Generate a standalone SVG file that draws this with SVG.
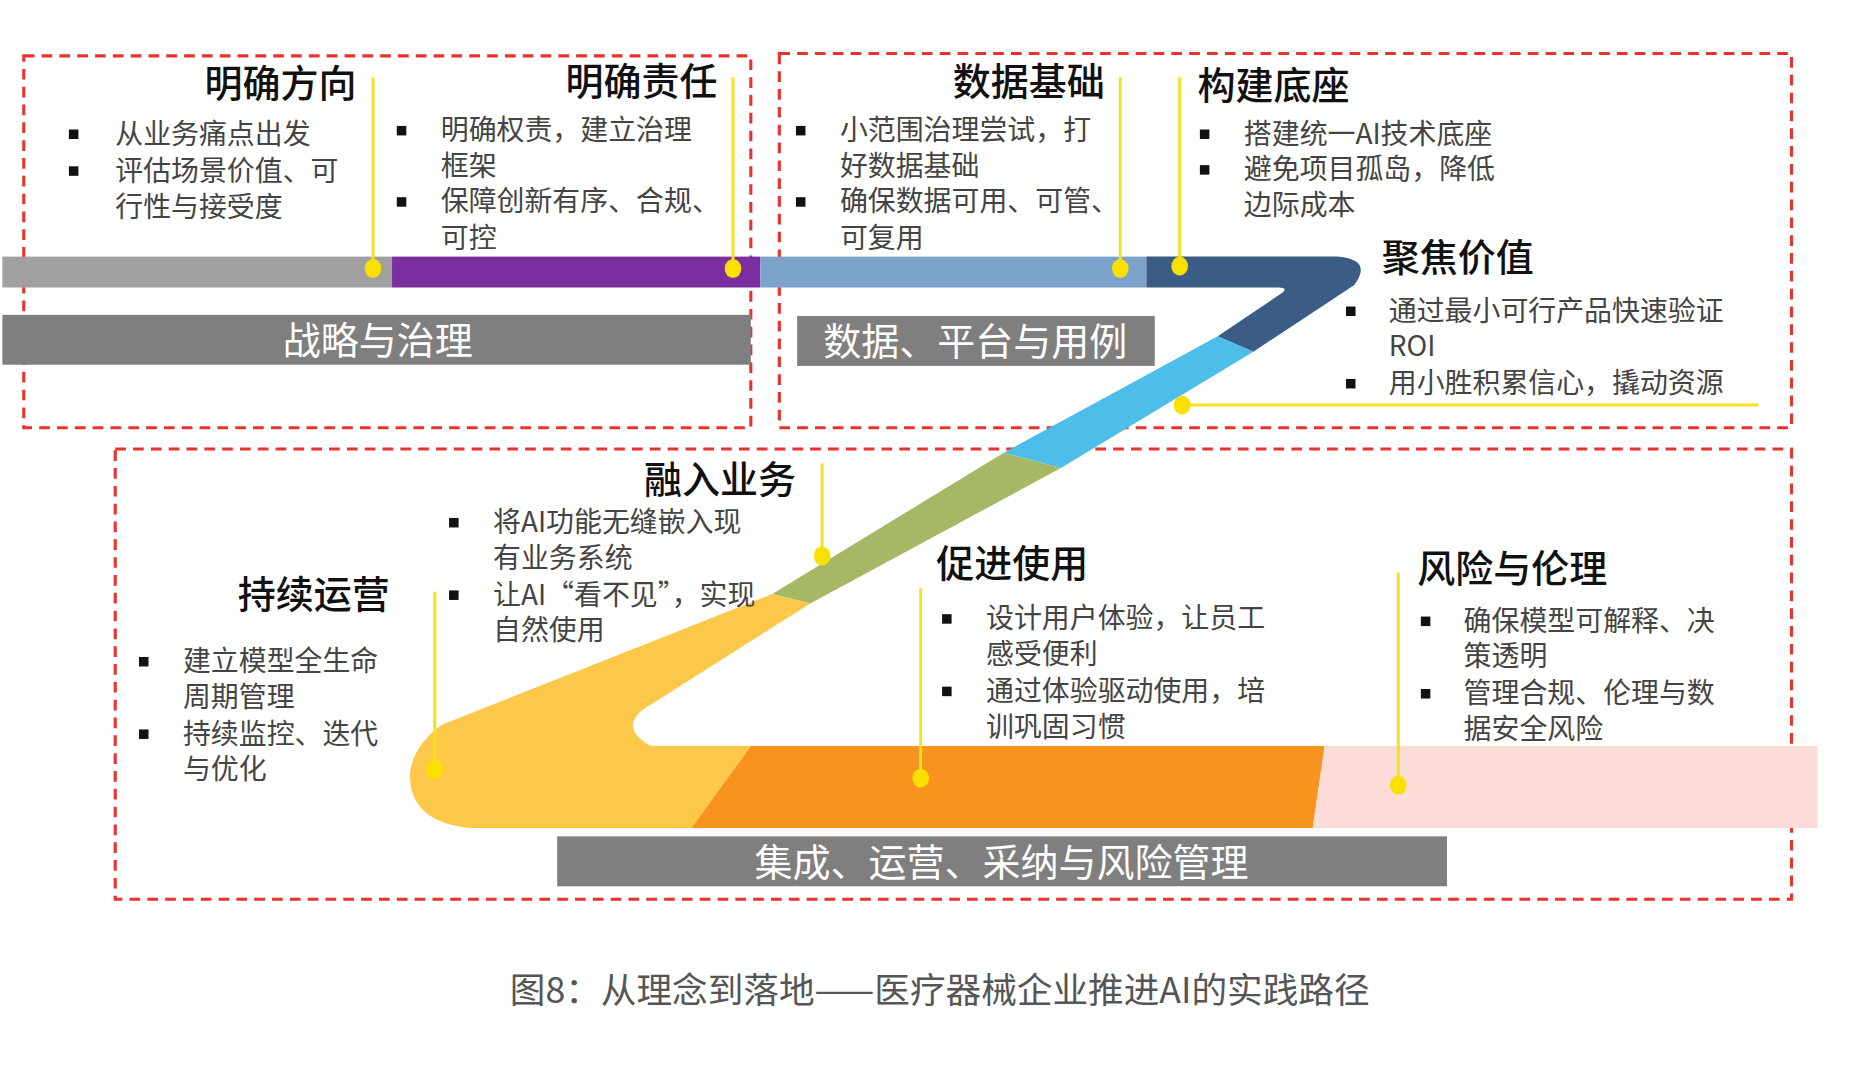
<svg xmlns="http://www.w3.org/2000/svg" width="1860" height="1080" viewBox="0 0 1860 1080">
<style>
.box{fill:none;stroke:#e8322e;stroke-width:2.6;stroke-dasharray:9 6}
.t{font-family:"Noto Sans CJK SC","Noto Sans",sans-serif;font-size:32px;font-weight:500;fill:#111}
.b{font-family:"Noto Sans CJK SC","Noto Sans",sans-serif;font-size:23.5px;fill:#444}
.lbl{font-family:"Noto Sans CJK SC","Noto Sans",sans-serif;font-size:32px;fill:#fff}
.yl{stroke:#f7e21a;stroke-width:2.5;fill:none}
.dot{fill:#f9e000}
.sq{fill:#111}
</style>
<rect width="1860" height="1080" fill="#fff"/>
<g transform="scale(1.188)">
<g id="frames">
<rect class="box" x="20" y="47" width="612" height="313"/>
<rect class="box" x="656" y="45" width="852" height="315"/>
<rect class="box" x="97" y="378" width="1411" height="379"/>
</g>
<g id="path">
<rect x="2" y="216" width="328" height="26" fill="#a0a0a0"/>
<rect x="330" y="216" width="310" height="26" fill="#7a2ea0"/>
<rect x="640" y="216" width="325" height="26" fill="#7ba3cc"/>
<path d="M965,216 H1125 Q1156,218 1140,240 L1055,296 L1025,283 L1080,246 Q1084,242 1076,242 H965 Z" fill="#3a5c85"/>
<path d="M1025,283 L1055,296 L893,394 L845,381 Z" fill="#4dbde9"/>
<path d="M845,381 L893,394 L682,508 L650,500 Z" fill="#a5b865"/>
<path d="M650,500 L682,508 L540,598 Q522,614 548,628 L632,628 L582,697 L395,697 Q345,692 345,652 Q347,628 372,610 Z" fill="#fcc84a"/>
<path d="M632,628 H1115 L1105,697 H582 Z" fill="#f7931e"/>
<path d="M1115,628 H1530 V697 H1105 Z" fill="#fcdcd6"/>
</g>
<g id="labels">
<rect x="2" y="265" width="630" height="42" fill="#7f7f7f"/>
<text class="lbl" x="318" y="298" text-anchor="middle">战略与治理</text>
<rect x="671" y="266" width="301" height="42" fill="#7f7f7f"/>
<text class="lbl" x="821" y="299" text-anchor="middle">数据、平台与用例</text>
<rect x="469" y="704" width="749" height="42" fill="#7f7f7f"/>
<text class="lbl" x="843" y="737" text-anchor="middle">集成、运营、采纳与风险管理</text>
</g>
<g id="connectors">
<line class="yl" x1="314" y1="65" x2="314" y2="226"/><ellipse class="dot" cx="314" cy="226" rx="7" ry="8"/>
<line class="yl" x1="617" y1="65" x2="617" y2="226"/><ellipse class="dot" cx="617" cy="226" rx="7" ry="8"/>
<line class="yl" x1="943" y1="65" x2="943" y2="226"/><ellipse class="dot" cx="943" cy="226" rx="7" ry="8"/>
<line class="yl" x1="993" y1="65" x2="993" y2="224"/><ellipse class="dot" cx="993" cy="224" rx="7" ry="8"/>
<line class="yl" x1="995" y1="341" x2="1480" y2="341"/><ellipse class="dot" cx="995" cy="341" rx="7" ry="8"/>
<line class="yl" x1="692" y1="390" x2="692" y2="468"/><ellipse class="dot" cx="692" cy="468" rx="7" ry="8"/>
<line class="yl" x1="366" y1="498" x2="366" y2="648"/><ellipse class="dot" cx="366" cy="648" rx="7" ry="8"/>
<line class="yl" x1="775" y1="495" x2="775" y2="655"/><ellipse class="dot" cx="775" cy="655" rx="7" ry="8"/>
<line class="yl" x1="1177" y1="482" x2="1177" y2="661"/><ellipse class="dot" cx="1177" cy="661" rx="7" ry="8"/>
</g>
<g id="n1">
<text class="t" x="300" y="82" text-anchor="end">明确方向</text>
<rect class="sq" x="58" y="109" width="8" height="8"/><rect class="sq" x="58" y="140" width="8" height="8"/>
<text class="b" x="97" y="121">从业务痛点出发</text><text class="b" x="97" y="152">评估场景价值、可</text><text class="b" x="97" y="183">行性与接受度</text>
</g>
<g id="n2">
<text class="t" x="604" y="80" text-anchor="end">明确责任</text>
<rect class="sq" x="334" y="106" width="8" height="8"/><rect class="sq" x="334" y="166" width="8" height="8"/>
<text class="b" x="371" y="118">明确权责，建立治理</text><text class="b" x="371" y="148">框架</text><text class="b" x="371" y="178">保障创新有序、合规、</text><text class="b" x="371" y="209">可控</text>
</g>
<g id="n3">
<text class="t" x="930" y="80" text-anchor="end">数据基础</text>
<rect class="sq" x="670" y="106" width="8" height="8"/><rect class="sq" x="670" y="166" width="8" height="8"/>
<text class="b" x="707" y="118">小范围治理尝试，打</text><text class="b" x="707" y="148">好数据基础</text><text class="b" x="707" y="178">确保数据可用、可管、</text><text class="b" x="707" y="209">可复用</text>
</g>
<g id="n4">
<text class="t" x="1008" y="83">构建底座</text>
<rect class="sq" x="1010" y="109" width="8" height="8"/><rect class="sq" x="1010" y="139" width="8" height="8"/>
<text class="b" x="1047" y="121">搭建统一AI技术底座</text><text class="b" x="1047" y="151">避免项目孤岛，降低</text><text class="b" x="1047" y="181">边际成本</text>
</g>
<g id="n5">
<text class="t" x="1163" y="228">聚焦价值</text>
<rect class="sq" x="1133" y="258" width="8" height="8"/><rect class="sq" x="1133" y="319" width="8" height="8"/>
<text class="b" x="1169" y="270">通过最小可行产品快速验证</text><text class="b" x="1169" y="300">ROI</text><text class="b" x="1169" y="331">用小胜积累信心，撬动资源</text>
</g>
<g id="n6">
<text class="t" x="670" y="415" text-anchor="end">融入业务</text>
<rect class="sq" x="378" y="436" width="8" height="8"/><rect class="sq" x="378" y="497" width="8" height="8"/>
<text class="b" x="415" y="448">将AI功能无缝嵌入现</text><text class="b" x="415" y="478">有业务系统</text><text class="b" x="415" y="509">让AI“看不见”，实现</text><text class="b" x="415" y="539">自然使用</text>
</g>
<g id="n7">
<text class="t" x="328" y="512" text-anchor="end">持续运营</text>
<rect class="sq" x="117" y="553" width="8" height="8"/><rect class="sq" x="117" y="614" width="8" height="8"/>
<text class="b" x="154" y="565">建立模型全生命</text><text class="b" x="154" y="595">周期管理</text><text class="b" x="154" y="626">持续监控、迭代</text><text class="b" x="154" y="656">与优化</text>
</g>
<g id="n8">
<text class="t" x="788" y="486">促进使用</text>
<rect class="sq" x="793" y="517" width="8" height="8"/><rect class="sq" x="793" y="578" width="8" height="8"/>
<text class="b" x="830" y="529">设计用户体验，让员工</text><text class="b" x="830" y="559">感受便利</text><text class="b" x="830" y="590">通过体验驱动使用，培</text><text class="b" x="830" y="620">训巩固习惯</text>
</g>
<g id="n9">
<text class="t" x="1193" y="490">风险与伦理</text>
<rect class="sq" x="1196" y="519" width="8" height="8"/><rect class="sq" x="1196" y="580" width="8" height="8"/>
<text class="b" x="1232" y="531">确保模型可解释、决</text><text class="b" x="1232" y="561">策透明</text><text class="b" x="1232" y="592">管理合规、伦理与数</text><text class="b" x="1232" y="622">据安全风险</text>
</g>
<text x="791" y="844" text-anchor="middle" font-family="Noto Sans CJK SC, sans-serif" font-size="30" fill="#555">图8：从理念到落地——医疗器械企业推进AI的实践路径</text>
</g>
</svg>
